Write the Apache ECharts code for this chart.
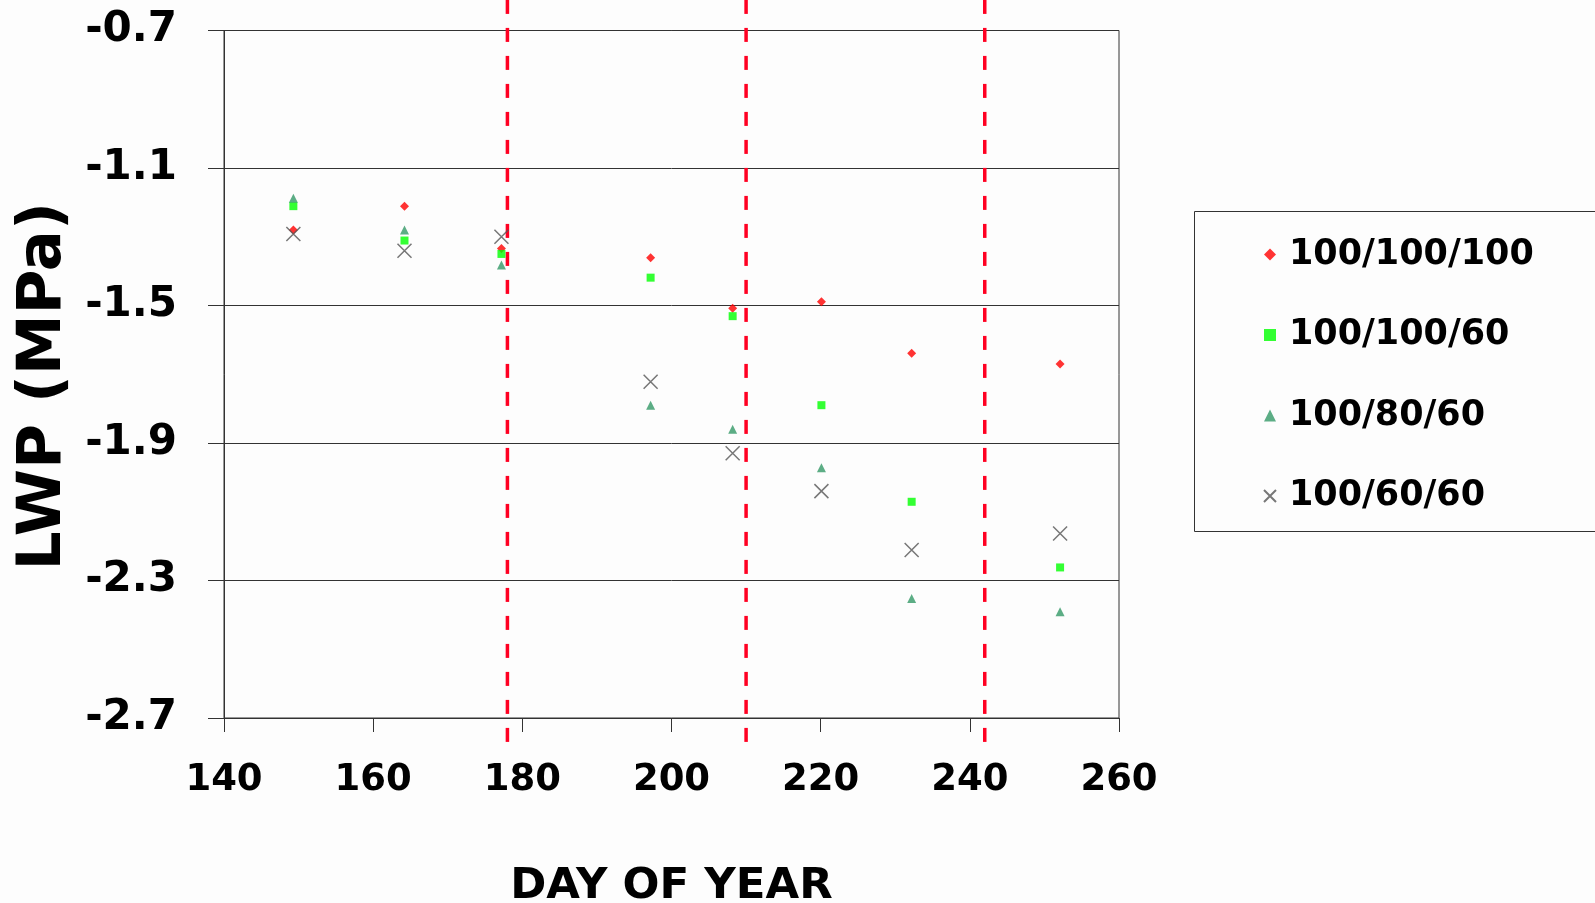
<!DOCTYPE html>
<html>
<head>
<meta charset="utf-8">
<script src="https://cdn.jsdelivr.net/npm/echarts@6/dist/echarts.min.js"></script>
<style>
html,body{margin:0;padding:0;background:#fdfdfd;}
#chart{width:1595px;height:903px;}
</style>
</head>
<body>
<div id="chart"></div>
<script>
// Data
const days = [149.3, 164.2, 177.2, 197.2, 208.2, 220.1, 232.2, 252.1];
const seriesNames = ['100/100/100', '100/100/60', '100/80/60', '100/60/60'];
const s100_100_100 = [-1.280, -1.211, -1.334, -1.361, -1.508, -1.489, -1.639, -1.670];
const s100_100_60  = [-1.211, -1.311, -1.350, -1.419, -1.531, -1.790, -2.071, -2.262];
const s100_80_60   = [-1.188, -1.280, -1.382, -1.790, -1.860, -1.972, -2.352, -2.391];
const s100_60_60   = [-1.292, -1.341, -1.300, -1.722, -1.930, -2.040, -2.211, -2.163];
const phaseDays = [178, 210, 242];
const yTicks = [-2.7, -2.3, -1.9, -1.5, -1.1, -0.7];
const xTicks = [140, 160, 180, 200, 220, 240, 260];

const FONT = 'DejaVu Sans';
const pairs = (vals) => vals.map((v, i) => [days[i], v]);

const chart = echarts.init(document.getElementById('chart'));

const dashSeries = phaseDays.map(d => ({
  type: 'line',
  silent: true,
  clip: false,
  symbol: 'none',
  data: [[d, -0.611], [d, -2.79]],
  lineStyle: { color: '#ff0022', width: 3.5, type: [14, 14] },
  z: 1
}));

const option = {
  backgroundColor: '#fdfdfd',
  animation: false,
  grid: {
    left: 224, right: 476, top: 30.5, bottom: 185,
    outerBoundsMode: 'none', containLabel: false,
    show: true, borderColor: '#333', borderWidth: 1, backgroundColor: 'transparent'
  },
  xAxis: {
    type: 'value', min: 140, max: 260, interval: 20,
    name: 'DAY OF YEAR', nameLocation: 'middle', nameGap: 147, nameMoveOverlap: false,
    nameTextStyle: { fontFamily: FONT, fontWeight: 'bold', fontSize: 43.5, color: '#000' },
    axisLine: { show: true, onZero: false, lineStyle: { color: '#333', width: 1 } },
    axisTick: { show: true, inside: false, length: 14, lineStyle: { color: '#333' } },
    axisLabel: { margin: 44, fontFamily: FONT, fontWeight: 'bold', fontSize: 37, color: '#000',
      customValues: xTicks },
    splitLine: { show: false }
  },
  yAxis: {
    type: 'value', min: -2.7, max: -0.7, interval: 0.4,
    name: 'LWP (MPa)', nameLocation: 'middle', nameGap: 149, nameMoveOverlap: false,
    nameTextStyle: { fontFamily: FONT, fontWeight: 'bold', fontSize: 61, color: '#000', padding: [0, 24, 0, 0] },
    axisLine: { show: true, onZero: false, lineStyle: { color: '#333', width: 1 } },
    axisTick: { show: true, inside: false, length: 16, lineStyle: { color: '#333' } },
    axisLabel: { margin: 47, fontFamily: FONT, fontWeight: 'bold', fontSize: 42, color: '#000',
      formatter: v => v.toFixed(1) },
    splitLine: { show: true, lineStyle: { color: '#333', width: 1 } }
  },
  legend: {
    orient: 'vertical',
    left: 1258, top: 229,
    itemWidth: 12, itemHeight: 12,
    itemGap: 39.5,
    data: seriesNames,
    textStyle: { fontFamily: FONT, fontWeight: 'bold', fontSize: 35, color: '#000', lineHeight: 41, padding: [0,0,0,8] }
  },
  graphic: [{
    type: 'rect',
    shape: { x: 1194.5, y: 211.5, width: 420, height: 320 },
    style: { fill: 'transparent', stroke: '#333', lineWidth: 1 },
    silent: true, z: 0
  }],
  series: [
    ...dashSeries,
    { name: seriesNames[0], type: 'scatter', data: pairs(s100_100_100), symbol: 'diamond', symbolSize: 9,
      itemStyle: { color: '#ff0000' }, z: 5 },
    { name: seriesNames[1], type: 'scatter', data: pairs(s100_100_60), symbol: 'rect', symbolSize: 8,
      itemStyle: { color: '#00ff00' }, z: 5 },
    { name: seriesNames[2], type: 'scatter', data: pairs(s100_80_60), symbol: 'triangle', symbolSize: 9,
      itemStyle: { color: '#339966' }, z: 5 },
    { name: seriesNames[3], type: 'scatter', data: pairs(s100_60_60),
      symbol: 'path://M0,0L10,10M10,0L0,10', symbolSize: 14,
      itemStyle: { color: 'transparent', borderColor: '#555', borderWidth: 1.5 }, z: 5 }
  ]
};
chart.setOption(option);
</script>
</body>
</html>
